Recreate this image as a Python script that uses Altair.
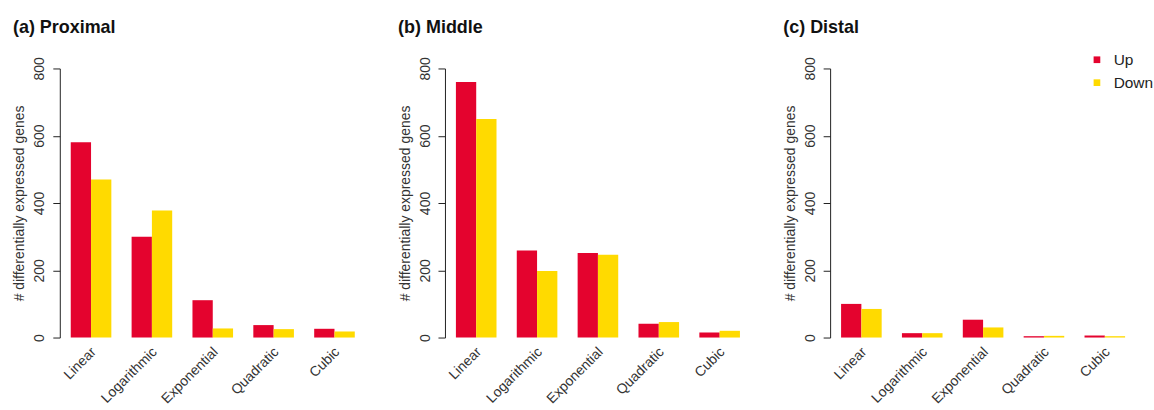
import altair as alt
import pandas as pd

# Fitted model categories (x axis) and regulation direction
models = ["Linear", "Logarithmic", "Exponential", "Quadratic", "Cubic"]
directions = ["Up", "Down"]

# Number of differentially expressed genes per region
proximal_up = [581, 300, 111, 37, 26]
proximal_down = [470, 378, 27, 25, 18]
middle_up = [760, 259, 251, 41, 15]
middle_down = [650, 198, 246, 46, 20]
distal_up = [100, 13, 53, 4, 6]
distal_down = [85, 13, 30, 5, 4]

panel_titles = ["(a) Proximal", "(b) Middle", "(c) Distal"]

RED = "#E4032E"
YELLOW = "#FFDA00"
FONT = "Liberation Sans"


def region_frame(up, down):
    rows = []
    for m, u, d in zip(models, up, down):
        rows.append({"model": m, "direction": "Up", "genes": u})
        rows.append({"model": m, "direction": "Down", "genes": d})
    return pd.DataFrame(rows)


# legend coordinates are relative to the first panel's plot origin
legend = alt.Legend(
    title=None,
    orient="none",
    legendX=1033,
    legendY=-16.5,
    symbolType="square",
    symbolSize=45,
    symbolStrokeWidth=0,
    labelFontSize=15.5,
    labelFont=FONT,
    labelColor="#222",
    labelOffset=9,
    rowPadding=6,
)


def panel(df, title):
    return (
        alt.Chart(df)
        .mark_bar()
        .encode(
            x=alt.X(
                "model:N",
                sort=models,
                scale=alt.Scale(paddingInner=0.333, paddingOuter=0.18),
                axis=alt.Axis(
                    title=None,
                    labelAngle=315,
                    labelAlign="right",
                    labelBaseline="middle",
                    domain=False,
                    ticks=False,
                    grid=False,
                    labelPadding=12,
                    labelOffset=3,
                    labelFontSize=14,
                    labelFont=FONT,
                    labelColor="#333",
                ),
            ),
            xOffset=alt.XOffset(
                "direction:N",
                sort=directions,
                scale=alt.Scale(paddingInner=0, paddingOuter=0),
            ),
            y=alt.Y(
                "genes:Q",
                scale=alt.Scale(domain=[0, 800], nice=False),
                axis=alt.Axis(
                    values=[0, 200, 400, 600, 800],
                    title="# differentially expressed genes",
                    titleFont=FONT,
                    titleFontSize=14,
                    titleFontWeight="normal",
                    titleColor="#333",
                    titleAngle=270,
                    titleAlign="center",
                    titleBaseline="alphabetic",
                    titleX=-36,
                    titleY=135,
                    labelAngle=270,
                    labelAlign="center",
                    labelBaseline="alphabetic",
                    labelPadding=9,
                    labelFontSize=14,
                    labelFont=FONT,
                    labelColor="#333",
                    tickSize=7,
                    tickColor="#222",
                    domainColor="#222",
                    grid=False,
                ),
            ),
            color=alt.Color(
                "direction:N",
                sort=directions,
                scale=alt.Scale(domain=directions, range=[RED, YELLOW]),
                legend=legend,
            ),
        )
        .properties(
            width=307,
            height=270,
            title=alt.TitleParams(
                text=title,
                anchor="start",
                font=FONT,
                fontSize=18,
                fontWeight="bold",
                color="#111",
                offset=20,
            ),
        )
    )


charts = [
    panel(region_frame(proximal_up, proximal_down), panel_titles[0]),
    panel(region_frame(middle_up, middle_down), panel_titles[1]),
    panel(region_frame(distal_up, distal_down), panel_titles[2]),
]

chart = (
    alt.hconcat(*charts, spacing=31.5)
    .properties(
        background="white",
        padding={"left": 12, "top": 18, "right": 0, "bottom": 0},
    )
    .configure_view(stroke="transparent", strokeWidth=0)
)

chart.save("out.html", embed_options={"renderer": "svg", "actions": False})
